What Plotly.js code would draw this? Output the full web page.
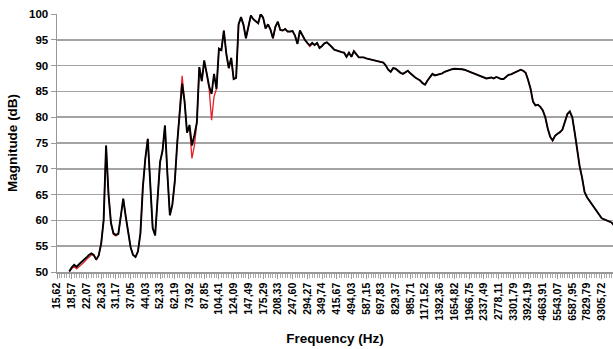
<!DOCTYPE html>
<html>
<head>
<meta charset="utf-8">
<script src="https://cdn.plot.ly/plotly-3.0.1.min.js"></script>
<style>html,body{margin:0;padding:0;background:#fff;}#chart{width:613px;height:349px;}</style>
</head>
<body>
<div id="chart"></div>
<script>
// Tick labels (every 6th category, 1/24-octave steps)
const freqLabels = ['15,62','18,57','22,07','26,23','31,17','37,05','44,03','52,33','62,19','73,92','87,85','104,41','124,09','147,49','175,29','208,33','247,60','294,27','349,74','415,67','494,03','587,15','697,83','829,37','985,71','1171,52','1392,36','1654,82','1966,75','2337,49','2778,11','3301,79','3924,19','4663,91','5543,07','6587,95','7829,79','9305,72'];
const labelEvery = 6;

// Black series (category index 0..227), dB
const magBlack = [null,null,null,null,null,
50.1,50.9,51.4,51.0,51.5,51.9,52.4,52.8,53.3,53.6,
53.3,52.4,53.2,55.5,60.0,74.5,65.0,59.5,57.5,57.2,
57.4,60.5,64.2,60.8,57.5,54.8,53.3,52.9,54.0,57.5,
66.5,72.0,75.8,67.0,58.5,57.1,64.0,71.3,73.5,78.4,
69.0,61.0,63.0,67.5,75.0,81.5,86.5,83.0,77.0,78.5,
74.5,76.5,79.0,89.7,87.0,91.0,88.5,86.0,84.5,88.4,
85.5,93.3,93.0,96.8,92.3,89.5,91.5,87.4,87.6,98.0,
99.4,97.9,95.3,97.5,99.7,99.0,98.5,98.2,100.0,99.3,
97.2,98.0,97.0,95.3,97.5,98.5,96.9,96.8,97.1,96.6,
96.6,96.7,95.8,94.2,96.8,95.8,95.0,94.4,93.9,94.4,
94.0,94.4,93.4,93.8,94.3,94.5,94.1,93.6,93.1,92.9,
92.7,92.6,92.5,91.7,92.5,91.7,92.8,92.1,91.6,91.6,
91.6,91.4,91.3,91.1,91.0,90.9,90.8,90.7,90.6,90.0,
89.2,88.8,89.5,89.4,88.9,88.6,88.4,88.7,89.0,88.5,
88.0,87.7,87.4,87.1,86.6,86.3,87.1,87.8,88.4,88.1,
88.2,88.4,88.5,88.8,89.0,89.2,89.3,89.4,89.4,89.4,
89.3,89.2,89.0,88.9,88.7,88.5,88.2,88.0,87.9,87.7,
87.5,87.6,87.7,87.5,87.8,87.6,87.4,87.4,87.8,88.2,
88.3,88.5,88.7,89.0,89.2,89.0,88.6,87.2,85.5,83.0,
82.3,82.4,82.0,81.3,80.0,77.8,76.2,75.5,76.4,76.8,
77.1,77.6,79.3,80.6,81.1,80.0,77.0,73.5,70.5,68.3,
65.5,64.5,63.8,63.2,62.4,61.6,60.9,60.4,60.2,60.0,
59.9,59.6,59.0];

// Red series (mostly hidden under the black one), dB
const magRed = [null,null,null,null,null,
50.1,50.7,51.1,50.6,51.0,51.4,51.9,52.4,52.9,53.3,
53.2,52.4,53.2,55.5,60.0,74.5,65.0,59.5,57.3,57.0,
57.4,60.5,64.2,60.8,57.5,54.8,53.3,52.9,54.0,57.5,
66.5,72.0,75.8,67.0,58.5,57.1,64.0,71.3,73.5,78.4,
69.0,61.0,63.0,67.5,75.0,82.0,88.0,83.0,77.0,78.0,
72.0,74.5,79.0,89.7,87.0,90.5,88.5,85.5,79.4,84.0,
85.5,93.3,93.0,96.8,92.3,89.5,91.5,87.4,87.6,98.0,
99.4,97.9,95.3,97.5,99.7,99.0,98.5,98.2,100.0,99.3,
97.2,98.0,97.0,95.3,97.5,98.5,96.9,96.8,97.1,96.6,
96.6,96.7,95.8,94.2,96.8,95.8,95.0,94.4,93.7,94.2,
94.0,94.4,93.4,93.8,94.3,94.5,94.1,93.6,93.1,92.9,
92.7,92.6,92.5,91.7,92.5,91.7,92.8,92.1,91.6,91.6,
91.6,91.4,91.3,91.1,91.0,90.9,90.8,90.7,90.6,90.0,
89.2,88.8,89.5,89.4,88.9,88.6,88.4,88.7,89.0,88.5,
88.0,87.7,87.4,87.1,86.6,86.3,87.1,87.8,88.4,88.1,
88.2,88.4,88.5,88.8,89.0,89.2,89.3,89.4,89.4,89.4,
89.3,89.2,89.0,88.9,88.7,88.5,88.2,88.0,87.9,87.7,
87.5,87.6,87.7,87.5,87.8,87.6,87.4,87.4,87.8,88.2,
88.3,88.5,88.7,89.0,89.2,89.0,88.6,87.2,85.5,83.0,
82.3,82.4,82.0,81.3,80.0,77.8,76.2,75.5,76.4,76.8,
77.1,77.6,79.3,80.6,81.1,80.0,77.0,73.5,70.5,68.3,
65.5,64.5,63.8,63.2,62.4,61.6,60.9,60.4,60.2,60.0,
59.9,59.6,59.0];

const catIndex = magBlack.map((_, i) => i);
const tickPos = freqLabels.map((_, k) => k * labelEvery);

const font = {family: 'Arial, "Liberation Sans", sans-serif', color: '#000'};

const traces = [
  {x: catIndex, y: magRed, type: 'scatter', mode: 'lines', line: {color: '#e8202a', width: 1.3}, hoverinfo: 'skip', showlegend: false},
  {x: catIndex, y: magBlack, type: 'scatter', mode: 'lines', line: {color: '#000000', width: 1.9}, showlegend: false}
];

const layout = {
  width: 613, height: 349,
  margin: {l: 57, r: 0, t: 14, b: 77},
  paper_bgcolor: '#fff', plot_bgcolor: '#fff',
  font: Object.assign({size: 11}, font),
  showlegend: false,
  xaxis: {
    range: [0, 226.6],
    tickmode: 'array', tickvals: tickPos, ticktext: freqLabels.map(s => '<b>' + s + '</b>'),
    tickangle: -90,
    tickfont: Object.assign({size: 10.5}, font),
    ticks: 'outside', ticklen: 5, tickcolor: '#999', tickwidth: 1,
    minor: {tickmode: 'linear', tick0: 0, dtick: 1, ticks: 'outside', ticklen: 4, tickcolor: '#aaa', tickwidth: 1, showgrid: false},
    showgrid: false, zeroline: false,
    showline: true, linecolor: '#999', linewidth: 1.5,
    title: {text: '<b>Frequency (Hz)</b>', font: Object.assign({size: 13.5}, font), standoff: 14}
  },
  yaxis: {
    range: [50, 100], tickmode: 'linear', tick0: 50, dtick: 5,
    tickfont: Object.assign({size: 11.5}, font),
    tickprefix: '<b>', ticksuffix: '</b>',
    ticks: 'outside', ticklen: 5, tickcolor: '#999', tickwidth: 1,
    showgrid: true, gridcolor: '#a3a3a3', gridwidth: 1.6,
    zeroline: false, showline: true, linecolor: '#999', linewidth: 1.5,
    title: {text: '<b>Magnitude (dB)</b>', font: Object.assign({size: 13.5}, font), standoff: 8}
  }
};

Plotly.newPlot('chart', traces, layout, {staticPlot: true, displayModeBar: false});
</script>
</body>
</html>
